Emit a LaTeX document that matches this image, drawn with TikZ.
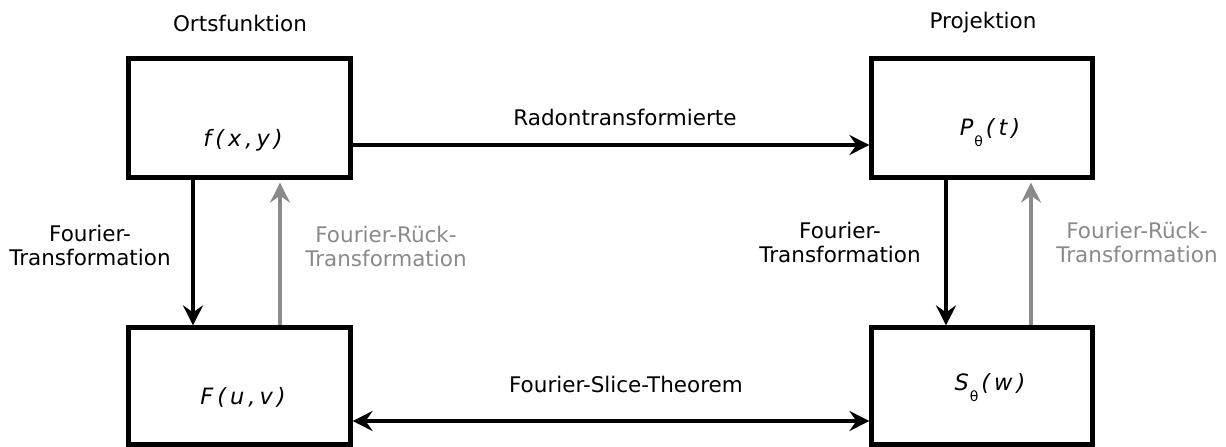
\documentclass[tikz,border=0pt]{standalone}
\usepackage{fontspec}
\setmainfont{DejaVu Sans}
\usetikzlibrary{arrows.meta}
\definecolor{backgray}{HTML}{8A8A8A}
% spacing between the letters of the function names
\newcommand\lsp{\kern4pt}
\newcommand\lowsub[1]{\kern1pt\raisebox{-11pt}{\upshape\fontsize{14}{14}\selectfont #1}\kern3pt}
\begin{document}
\begin{tikzpicture}[x=1pt,y=-1pt,
  every node/.style={font=\fontsize{21.5}{24}\selectfont, inner sep=0pt},
  block/.style={draw, line width=4.2pt, outer sep=auto, fill=white},
  func/.style={font=\fontsize{22.5}{24}\selectfont\itshape},
  lbl/.style={align=center},
  arr/.tip={Stealth[length=20pt,width=20pt,inset=7pt]},
  fwd/.style={-arr, line width=3.1pt, black},
  back/.style={-arr, line width=3.1pt, backgray}]
  \useasboundingbox (0,0) rectangle (1226,447);

  % the four boxes
  \node[block, minimum width=222pt, minimum height=119pt] (fxy) at (239.5,118) {};
  \node[block, minimum width=221pt, minimum height=119pt] (ptt) at (982,118) {};
  \node[block, minimum width=222pt, minimum height=117pt] (fuv) at (239.5,386) {};
  \node[block, minimum width=221pt, minimum height=117pt] (sw) at (982,386) {};

  % contents of the boxes
  \node[func] (tfxy) at (243,140) {f\lsp(\lsp x\lsp,\lsp y\lsp)};
  \node[func] (tptt) at (990,133) {P\lowsub{θ}(\lsp t\lsp)};
  \node[func] (tfuv) at (243,397) {F\lsp(\lsp u\lsp,\lsp v\lsp)};
  \node[func] (tsw) at (990,388) {S\lowsub{θ}(\lsp w\lsp)};

  % column titles
  \node (t1) at (240,23) {Ortsfunktion};
  \node (t2) at (983,23) {Projektion};

  % horizontal connections
  \draw[fwd] ([yshift=-27pt]fxy.east) -- ([yshift=-27pt]fxy.east -| ptt.west);
  \node (lradon) at (625,117) {Radontransformierte};
  \draw[arr-arr, line width=3.1pt]
    ([yshift=-35pt]fuv.east) -- ([yshift=-35pt]fuv.east -| sw.west);
  \node (lslice) at (626,384) {Fourier-Slice-Theorem};

  % vertical connections, left column
  \draw[fwd] ([xshift=-46.5pt]fxy.south) -- ([xshift=-46.5pt]fxy.south |- fuv.north);
  \draw[back] ([xshift=40.5pt]fuv.north) -- ([xshift=40.5pt,yshift=-3pt]fuv.north |- fxy.south);
  \node[lbl] (l1) at (90,245) {Fourier-\\Transformation};
  \node[lbl, text=backgray] (l2) at (386,246) {Fourier-Rück-\\Transformation};

  % vertical connections, right column
  \draw[fwd] ([xshift=-36pt]ptt.south) -- ([xshift=-36pt]ptt.south |- sw.north);
  \draw[back] ([xshift=49pt]sw.north) -- ([xshift=49pt,yshift=-3pt]sw.north |- ptt.south);
  \node[lbl] (r1) at (840,242) {Fourier-\\Transformation};
  \node[lbl, text=backgray] (r2) at (1137,242) {Fourier-Rück-\\Transformation};
\end{tikzpicture}
\end{document}
